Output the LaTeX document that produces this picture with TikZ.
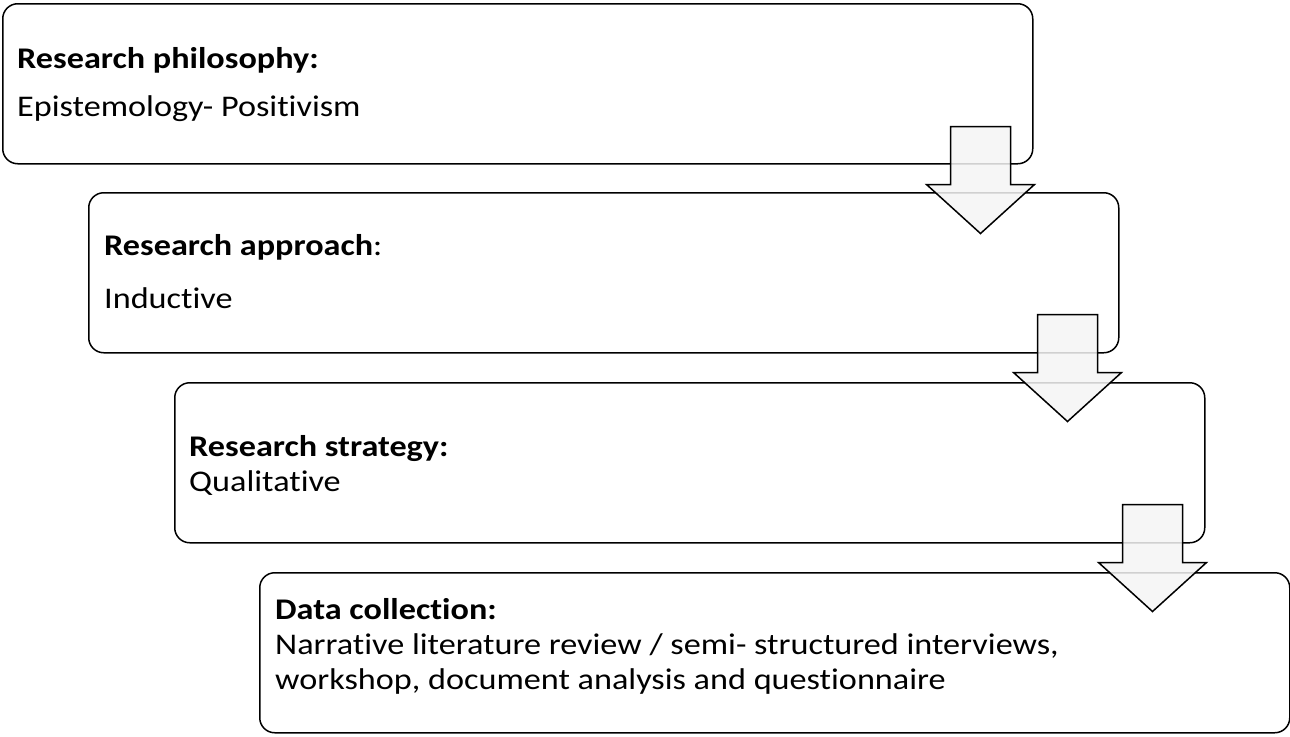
\documentclass[tikz,border=0pt]{standalone}
\usepackage{fontspec}
\setmainfont{Carlito}[Ligatures=NoCommon, FakeStretch=1.14]
\usetikzlibrary{calc}
\begin{document}
\begin{tikzpicture}[x=1pt,y=-1pt,
  stagebox/.style={draw=black, line width=1.5pt, rounded corners=15pt,
    minimum width=1030pt, minimum height=160pt, anchor=north west, inner sep=0pt},
  label/.style={anchor=base west, inner sep=0pt, font=\fontsize{30}{36}\selectfont},
  flowarrow/.style={draw=black, line width=1.5pt, line join=miter,
    fill=black!4, fill opacity=0.85},
  flow arrow/.pic={
    \path[flowarrow] (-30,0) -- (30,0) -- (30,58) -- (54,58) -- (0,107)
      -- (-54,58) -- (-30,58) -- cycle;
  }]
\useasboundingbox (0,0) rectangle (1290,736);

% stage boxes
\node[stagebox] (b1) at (2,3) {};
\node[stagebox] (b2) at (88,192) {};
\node[stagebox] (b3) at (174,382) {};
\node[stagebox] (b4) at (259,572) {};

% texts
\node[label] (t1a) at (17,68) {\bfseries Research philosophy:};
\node[label] (t1b) at (17,116) {Epistemology- Positivism};
\node[label] (t2a) at (104,255) {\textbf{Research approach}:};
\node[label] (t2b) at (104,308) {Inductive};
\node[label] (t3a) at (189,456) {\bfseries Research strategy:};
\node[label] (t3b) at (189,491) {Qualitative};
\node[label] (t4a) at (275,619) {\bfseries Data collection:};
\node[label] (t4b) at (275,654) {Narrative literature review / semi- structured interviews,};
\node[label] (t4c) at (275,689) {workshop, document analysis and questionnaire};

% arrows between stages
\pic at ($(b1.south east)+(-53,-38)$) {flow arrow};
\pic at ($(b2.south east)+(-52,-39)$) {flow arrow};
\pic at ($(b3.south east)+(-53,-39)$) {flow arrow};
\end{tikzpicture}
\end{document}
